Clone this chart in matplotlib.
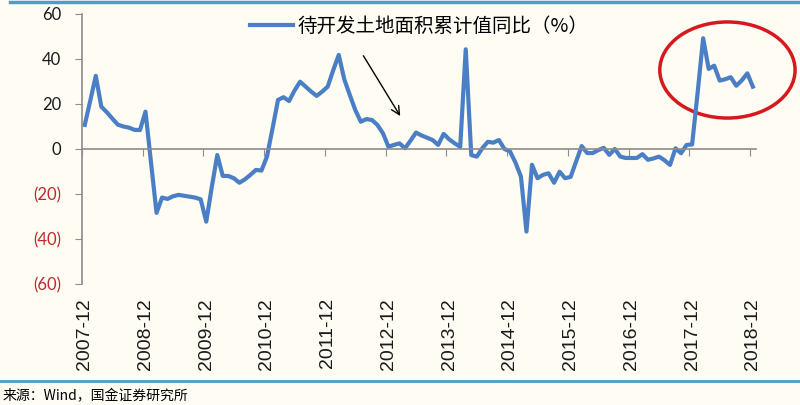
import numpy as np
import matplotlib.pyplot as plt
from matplotlib.patches import Ellipse
from matplotlib.lines import Line2D
import matplotlib.transforms as mtransforms

# monthly cumulative YoY (Jan-Feb combined), 2007-12 .. 2018-12
values = [10.7, 21.5, 32.5, 18.8, 16.3, 13.5, 10.8, 10.0, 9.5, 8.5, 8.4, 16.6,
          -6.0, -28.4, -21.6, -22.2, -21.0, -20.4, -20.8, -21.2, -21.6, -22.4, -32.3,
          -17.0, -2.7, -12.0, -12.0, -13.0, -15.0, -13.5, -11.5, -9.3, -9.6, -3.4,
          9.0, 21.8, 23.0, 21.3, 26.0, 29.9, 27.7, 25.5, 23.6, 25.5, 27.7,
          35.0, 41.8, 31.0, 24.0, 17.3, 12.1, 13.3, 12.9, 10.7, 7.0, 1.0,
          1.8, 2.5, 0.3, 3.7, 7.3, 6.0, 5.0, 4.0, 1.8, 6.7, 4.3,
          2.5, 1.0, 44.3, -2.7, -3.4, 0.3, 3.2, 2.8, 4.0, 0.0, -1.0,
          -6.0, -12.3, -36.7, -7.0, -13.0, -11.5, -10.8, -15.0, -10.1, -13.0, -12.4,
          -5.5, 1.3, -1.8, -1.8, -0.5, 0.5, -2.6, 0.0, -3.4, -4.0, -4.0,
          -4.0, -2.3, -4.8, -4.2, -3.4, -5.0, -7.1, 0.3, -1.9, 1.8, 2.0,
          25.0, 49.2, 35.6, 37.0, 30.4, 31.0, 31.9, 28.1, 30.5, 33.6, 27.7]
tick_labels = ['2007-12', '2008-12', '2009-12', '2010-12', '2011-12', '2012-12',
               '2013-12', '2014-12', '2015-12', '2016-12', '2017-12', '2018-12']
yticks = [-60, -40, -20, 0, 20, 40, 60]
legend_label = '待开发土地面积累计值同比（%）'
source = '来源：Wind，国金证券研究所'

plt.rcParams['font.family'] = ['Noto Sans CJK SC', 'DejaVu Sans']
bg = '#FEFCF3'
grey = '#8C8C8C'

x = np.arange(len(values))
step = 11

fig = plt.figure(figsize=(8, 4.05), dpi=100, facecolor=bg)
ax = fig.add_axes([0.1025, 0.2988, 0.842, 0.6667])
ax.set_facecolor(bg)
ax.plot(x, values, color='#4A7FC5', lw=3, solid_joinstyle='round', label=legend_label)
ax.set_xlim(-0.5, len(values) - 0.5)
ax.set_ylim(-60, 60)

ax.spines['top'].set_visible(False)
ax.spines['right'].set_visible(False)
ax.spines['bottom'].set_position(('data', 0))
ax.spines['bottom'].set_color(grey)
ax.spines['left'].set_color(grey)
ax.spines['bottom'].set_linewidth(1.2)
ax.spines['left'].set_linewidth(1.2)

ax.set_xticks(np.arange(-0.5, len(values), step))
ax.tick_params(axis='x', direction='out', length=5, color=grey, labelbottom=False)
ax.set_yticks(yticks)
ax.set_yticklabels([str(v) if v >= 0 else '(%d)' % -v for v in yticks])
ax.tick_params(axis='y', direction='out', length=5, color=grey, pad=10, labelsize=12)
for lbl, v in zip(ax.get_yticklabels(), yticks):
    lbl.set_fontfamily('Lato')
    lbl.set_color('#C0282D' if v < 0 else '#1A1A1A')

trans = mtransforms.blended_transform_factory(ax.transData, ax.transAxes)
for i, t in enumerate(tick_labels):
    ax.text(i * step, -0.052, t, transform=trans, rotation=90, ha='center', va='top',
            fontsize=14, family='Liberation Sans', color='#1A1A1A')

ax.legend(loc='center left', bbox_to_anchor=(250 / 800, 1 - 26.7 / 405),
          bbox_transform=fig.transFigure, frameon=False, fontsize=14,
          handlelength=2.2, handletextpad=0.25, borderpad=0, borderaxespad=0)

ax.annotate('', xy=(57.4, 13.6), xytext=(50.2, 42.5),
            arrowprops=dict(arrowstyle='->', color='black', lw=1, mutation_scale=15))
ax.add_patch(Ellipse((116.4, 35.1), 24.5, 42.7, fill=False, edgecolor='#D7191F',
                     lw=2.5, clip_on=False))

fig.add_artist(Line2D([10 / 800, 1], [1 - 2 / 405] * 2, color='#44A3C2', lw=2.5))
fig.add_artist(Line2D([0, 1], [1 - 381 / 405] * 2, color='#44A3C2', lw=2))
fig.text(3 / 800, 1 - 396 / 405, source, fontsize=10, va='center', ha='left')

fig.savefig('out.png', dpi=100, facecolor=fig.get_facecolor())
